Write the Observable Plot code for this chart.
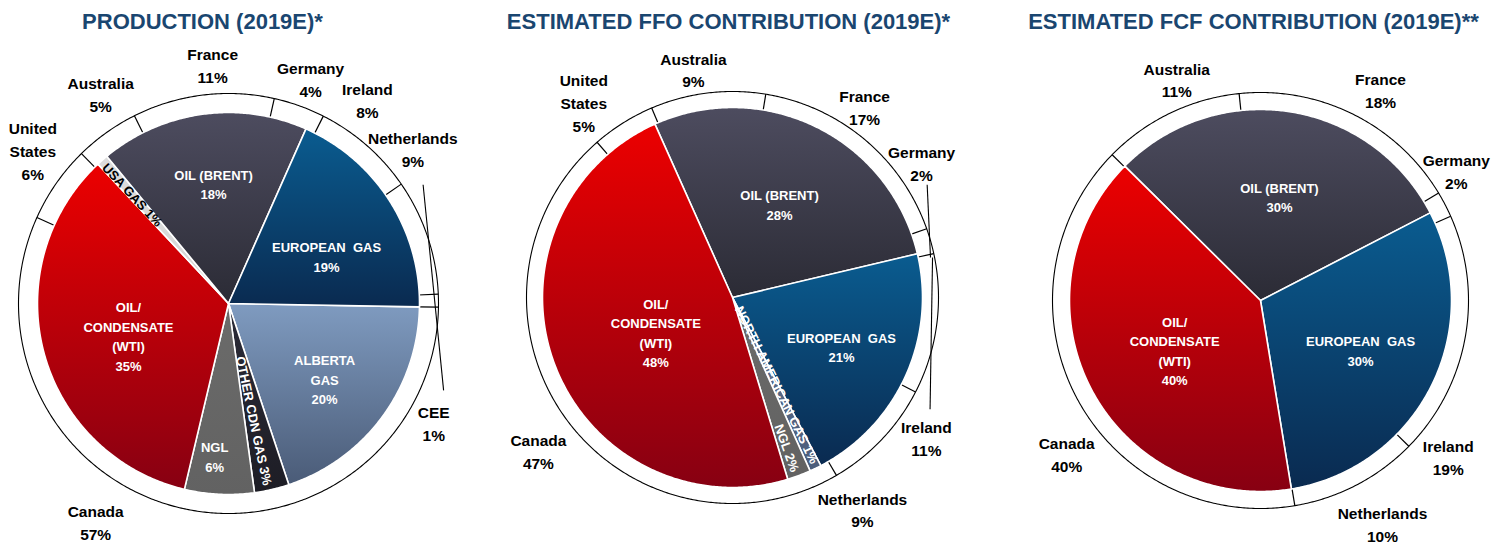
<!DOCTYPE html>
<html><head><meta charset="utf-8">
<script src="https://cdn.jsdelivr.net/npm/d3@7"></script>
<script src="https://cdn.jsdelivr.net/npm/@observablehq/plot@0.6"></script>
<style>
html,body{margin:0;padding:0;background:#fff;}
#chart{width:1503px;height:545px;overflow:hidden;}
</style>
</head><body><div id="chart"></div>
<script>
// ---------------- DATA ----------------
const titles = ["PRODUCTION (2019E)*", "ESTIMATED FFO CONTRIBUTION (2019E)*", "ESTIMATED FCF CONTRIBUTION (2019E)**"];

const prodProducts = ["ALBERTA\nGAS", "OTHER CDN GAS", "NGL", "OIL/\nCONDENSATE\n(WTI)", "USA GAS", "OIL (BRENT)", "EUROPEAN  GAS"];
const prodProductValues = [20, 3, 6, 35, 1, 18, 19];
const prodCountries = ["Canada", "United\nStates", "Australia", "France", "Germany", "Ireland", "Netherlands", "CEE"];
const prodCountryValues = [57, 6, 5, 11, 4, 8, 9, 1];

const ffoProducts = ["OIL (BRENT)", "EUROPEAN  GAS", "NORTH AMERICAN GAS", "NGL", "OIL/\nCONDENSATE\n(WTI)"];
const ffoProductValues = [28, 21, 1, 2, 48];
const ffoCountries = ["United\nStates", "Australia", "France", "Germany", "Ireland", "Netherlands", "Canada"];
const ffoCountryValues = [5, 9, 17, 2, 11, 9, 47];

const fcfProducts = ["OIL (BRENT)", "EUROPEAN  GAS", "OIL/\nCONDENSATE\n(WTI)"];
const fcfProductValues = [30, 30, 40];
const fcfCountries = ["Australia", "France", "Germany", "Ireland", "Netherlands", "Canada"];
const fcfCountryValues = [11, 18, 2, 19, 10, 40];

// ---------------- STYLE / LAYOUT ----------------
const W = 1503, H = 545;
const FONT = "'Liberation Sans', Arial, Helvetica, sans-serif";
const productStyle = {
  "ALBERTA\nGAS": "alberta",
  "OTHER CDN GAS": "othercdn",
  "NGL": "ngl",
  "OIL/\nCONDENSATE\n(WTI)": "red",
  "USA GAS": "usagas",
  "OIL (BRENT)": "brent",
  "EUROPEAN  GAS": "euro",
  "NORTH AMERICAN GAS": "nagas"
};
const gradients = {
  red: ["#ec0000", "#870012"],
  brent: ["#4d4c5f", "#2b2b35"],
  euro: ["#0a5c90", "#0a2a50"],
  alberta: ["#7f9bc0", "#4a5b77"],
  ngl: ["#6b6b6a", "#626262"],
  othercdn: ["#2c2c38", "#1d1d25"],
  usagas: ["#dcdcdc", "#d6d6d6"],
  nagas: ["#5f7392", "#4b5d7b"]
};
// polar placement [angle clockwise from top, radius, rotation?]
const layout = [
  {cx: 228, cy: 303, rIn: 191, rOut: 210, productStart: 91, countryStart: 91, titleX: 202,
   countryLabels: [[211.4,255],[308.2,249],[328.7,246],[356.2,240],[20,240],[34.2,247],[49.9,241],[120,237]],
   productLabels: [[128,122],[168,120,78],[185.2,153],[252.3,105],[318.3,145,47],[352.9,121],[64.1,109]],
   leaders: [[[58.6,228],[112,232]]]},
  {cx: 732, cy: 297, rIn: 190, rOut: 206, productStart: -24.1, countryStart: -41.1, titleX: 728,
   countryLabels: [[322.8,246],[350.3,232],[34.6,232.6],[54.4,232.5],[125.8,239],[148.4,248],[231.8,247]],
   productLabels: [[26.6,105],[114.2,119.5],[153.4,98,63.9],[160.3,160,70.3],[245.9,84]],
   leaders: [[[59.9,225],[78.6,202]],[[119.5,227],[78.7,204]]]},
  {cx: 1260, cy: 300, rIn: 191, rOut: 208, productStart: -45.3, countryStart: -45.5, titleX: 1253,
   countryLabels: [[339.3,237],[29.6,243],[56.4,235],[129.7,244],[151.3,254],[231.7,247]],
   productLabels: [[10.3,106],[116.3,111.6],[240.1,99]],
   leaders: []}
];
const charts = [
  {title: titles[0], products: prodProducts, productValues: prodProductValues, countries: prodCountries, countryValues: prodCountryValues},
  {title: titles[1], products: ffoProducts, productValues: ffoProductValues, countries: ffoCountries, countryValues: ffoCountryValues},
  {title: titles[2], products: fcfProducts, productValues: fcfProductValues, countries: fcfCountries, countryValues: fcfCountryValues}
];

// ---------------- GEOMETRY HELPERS ----------------
function polar(L, a, r) {
  const t = a * Math.PI / 180;
  return {x: L.cx + r * Math.sin(t), y: L.cy - r * Math.cos(t)};
}
function spans(values, start) {
  const total = d3.sum(values);
  let a = start;
  return values.map(v => { const a0 = a; a += v / total * 360; return [a0, a]; });
}
function sector(L, a0, a1, r) {
  const pts = [polar(L, a0, 0)];
  const n = Math.max(2, Math.ceil((a1 - a0) / 0.5));
  for (let i = 0; i <= n; i++) pts.push(polar(L, a0 + (a1 - a0) * i / n, r));
  pts.push(polar(L, a0, 0));
  return pts;
}
function circle(L, r) {
  const pts = [];
  for (let i = 0; i <= 720; i++) pts.push(polar(L, i / 2, r));
  return pts;
}

// ---------------- MARKS ----------------
const marks = [];
charts.forEach((c, ci) => {
  const L = layout[ci];
  // outer ring disc
  marks.push(Plot.line(circle(L, L.rOut), {x: "x", y: "y", fill: "white", stroke: "black", strokeWidth: 1.1}));
  // country separators
  const cSpans = spans(c.countryValues, L.countryStart);
  const seps = cSpans.map(([a0]) => {
    const p = polar(L, a0, L.rIn - 1), q = polar(L, a0, L.rOut);
    return {x1: p.x, y1: p.y, x2: q.x, y2: q.y};
  });
  marks.push(Plot.link(seps, {x1: "x1", y1: "y1", x2: "x2", y2: "y2", stroke: "black", strokeWidth: 1.2}));
  // product slices
  const pSpans = spans(c.productValues, L.productStart);
  c.products.forEach((p, i) => {
    const [a0, a1] = pSpans[i];
    marks.push(Plot.line(sector(L, a0, a1, L.rIn), {
      x: "x", y: "y", fill: `url(#g-${productStyle[p]})`, stroke: "white", strokeWidth: 1.6, strokeLinejoin: "round"
    }));
  });
  // leader lines
  const leads = L.leaders.map(([a, b]) => {
    const p = polar(L, a[0], a[1]), q = polar(L, b[0], b[1]);
    return {x1: p.x, y1: p.y, x2: q.x, y2: q.y};
  });
  if (leads.length) marks.push(Plot.link(leads, {x1: "x1", y1: "y1", x2: "x2", y2: "y2", stroke: "black", strokeWidth: 1.1}));
  // country labels
  const cl = c.countries.map((name, i) => {
    const [a, r] = L.countryLabels[i];
    return {...polar(L, a, r), text: `${name}\n${c.countryValues[i]}%`};
  });
  marks.push(Plot.text(cl, {x: "x", y: "y", text: "text", fill: "#000", fontSize: 15.5, fontWeight: "bold",
    fontFamily: FONT, lineAnchor: "middle", lineHeight: 1.47}));
  // product labels
  c.products.forEach((name, i) => {
    const [a, r, rot] = L.productLabels[i];
    const pos = polar(L, a, r);
    if (rot !== undefined) {
      marks.push(Plot.text([{...pos, text: `${name} ${c.productValues[i]}%`}], {
        x: "x", y: "y", text: "text", rotate: rot, fontSize: 13, fontWeight: "bold", fontFamily: FONT,
        fill: productStyle[name] === "usagas" ? "#000" : "#fff", lineAnchor: "middle"
      }));
    } else {
      marks.push(Plot.text([{...pos, text: `${name}\n${c.productValues[i]}%`}], {
        x: "x", y: "y", text: "text", fontSize: 13, fontWeight: "bold", fontFamily: FONT,
        fill: "#fff", lineAnchor: "middle", lineHeight: 1.5
      }));
    }
  });
  // title
  marks.push(Plot.text([{x: L.titleX, y: 21, text: c.title}], {
    x: "x", y: "y", text: "text", fontSize: 22, fontWeight: "bold", fontFamily: FONT, fill: "#1a4670", lineAnchor: "middle"
  }));
});

const chart = Plot.plot({
  width: W, height: H,
  margin: 0,
  x: {domain: [0, W], range: [0, W], axis: null},
  y: {domain: [0, H], range: [0, H], axis: null},
  style: {background: "white", fontFamily: FONT, overflow: "visible"},
  marks
});

// gradient definitions
const svg = d3.select(chart);
const defs = svg.insert("defs", ":first-child");
Object.entries(gradients).forEach(([k, [c0, c1]]) => {
  const g = defs.append("linearGradient").attr("id", `g-${k}`).attr("x1", 0).attr("y1", 0).attr("x2", 0).attr("y2", 1);
  g.append("stop").attr("offset", "0%").attr("stop-color", c0);
  g.append("stop").attr("offset", "100%").attr("stop-color", c1);
});
document.getElementById("chart").appendChild(chart);
</script>
</body></html>
